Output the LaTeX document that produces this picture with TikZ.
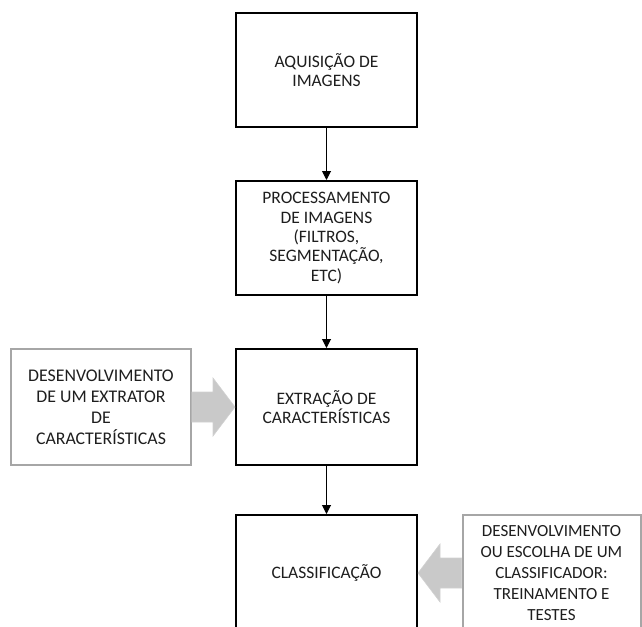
\documentclass[tikz,border=0pt]{standalone}
\usepackage{fontspec}
\setmainfont{Carlito}
\usetikzlibrary{arrows.meta,calc}
\definecolor{boxgray}{RGB}{166,166,166}
\definecolor{arrowgray}{RGB}{201,201,201}
\definecolor{inkdark}{RGB}{30,30,30}
\begin{document}
\begin{tikzpicture}[x=1pt,y=-1pt,
  stagebox/.style={draw=black, line width=2pt, fill=white, align=center,
    text=inkdark, minimum width=181pt, inner sep=2pt,
    font=\fontsize{17.5}{19.3}\selectfont},
  sidebox/.style={draw=boxgray, line width=2pt, fill=white, align=center,
    text=inkdark, minimum height=116pt, inner sep=2pt},
  flow/.style={draw=black, line width=1pt, -{Triangle[width=9pt,length=9pt]}},
  fatarrow/.style={fill=arrowgray, draw=arrowgray!85!white, line width=0.6pt}]
\useasboundingbox (0,0) rectangle (642,626);
\clip (0,0) rectangle (642,626);

% main pipeline
\node[stagebox, minimum height=114pt] (acq) at (326.5,70) {AQUISIÇÃO DE\\IMAGENS};
\node[stagebox, minimum height=114pt] (proc) at (326.5,238)
  {PROCESSAMENTO\\DE IMAGENS\\(FILTROS,\\SEGMENTAÇÃO,\\ETC)};
\node[stagebox, minimum height=116pt] (feat) at (326.5,407) {EXTRAÇÃO DE\\CARACTERÍSTICAS};
\node[stagebox, minimum height=116pt] (cls) at (326.5,573) {CLASSIFICAÇÃO};

\draw[flow] (acq) -- (proc);
\draw[flow] (proc) -- (feat);
\draw[flow] (feat) -- (cls);

% side inputs
\node[sidebox, minimum width=180pt, font=\fontsize{17.8}{21}\selectfont] (extr) at (101,407)
  {DESENVOLVIMENTO\\DE UM EXTRATOR\\DE\\CARACTERÍSTICAS};
\node[sidebox, minimum width=178pt, font=\fontsize{17}{20.8}\selectfont] (clsdev) at (551.5,573)
  {DESENVOLVIMENTO\\OU ESCOLHA DE UM\\CLASSIFICADOR:\\TREINAMENTO E\\TESTES};

% wide grey arrows into the pipeline
\filldraw[fatarrow] ($(extr.east)+(0,-15)$) -- ($(feat.west)+(-22,-15)$)
  -- ($(feat.west)+(-22,-29)$) -- (feat.west) -- ($(feat.west)+(-22,29)$)
  -- ($(feat.west)+(-22,15)$) -- ($(extr.east)+(0,15)$) -- cycle;
\filldraw[fatarrow] ($(clsdev.west)+(0,-15)$) -- ($(cls.east)+(22,-15)$)
  -- ($(cls.east)+(22,-29)$) -- (cls.east) -- ($(cls.east)+(22,29)$)
  -- ($(cls.east)+(22,15)$) -- ($(clsdev.west)+(0,15)$) -- cycle;
\end{tikzpicture}
\end{document}
